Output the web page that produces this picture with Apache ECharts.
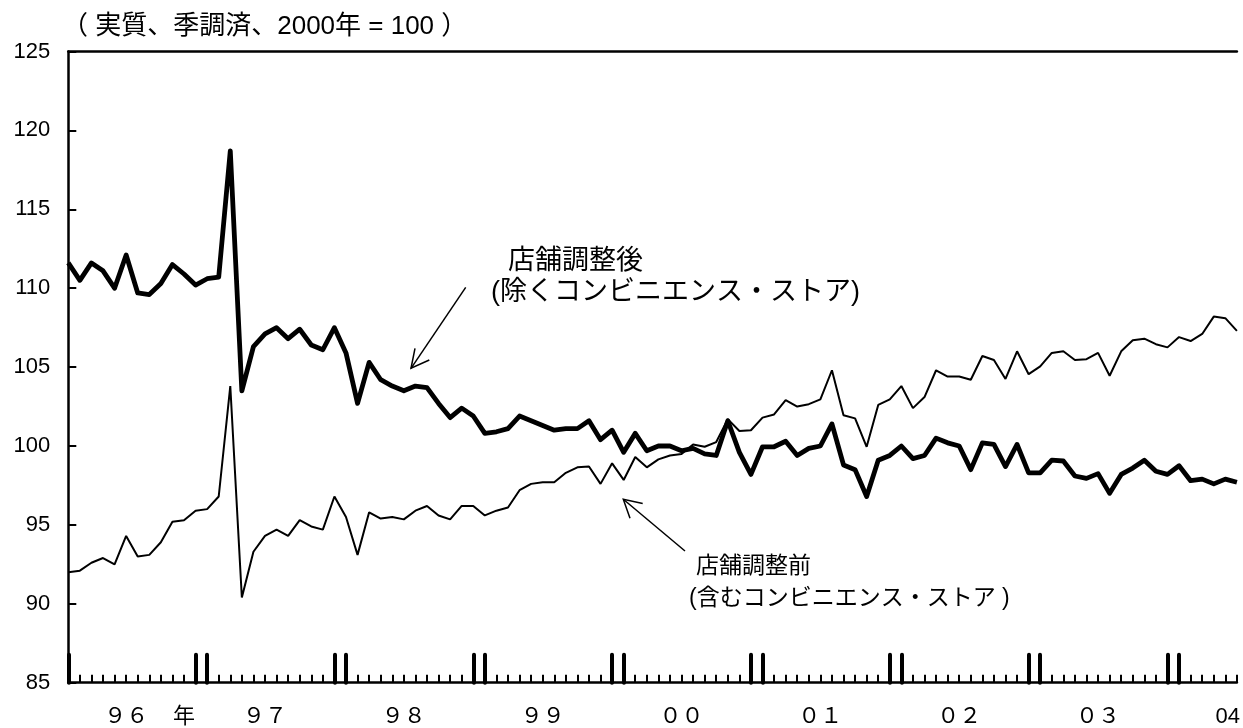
<!DOCTYPE html>
<html>
<head>
<meta charset="utf-8">
<script src="https://cdn.jsdelivr.net/npm/echarts@6/dist/echarts.min.js"></script>
<style>
html,body{margin:0;padding:0;background:#fff;}
#chart{width:1243px;height:728px;}
</style>
</head>
<body>
<div id="chart"></div>
<script>
// Monthly data, Jan 1996 .. Jun 2004 (last point lies just past the right edge)
var startYear = 1996;
var nPoints = 102;
var categories = [];
for (var i = 0; i < nPoints; i++) {
  categories.push((startYear + Math.floor(i / 12)) + '/' + (i % 12 + 1));
}

// 店舗調整後（除くコンビニエンス・ストア）
var adjusted = [
  111.6,110.5,111.6,111.1,110.0,112.1,109.7,109.6,110.3,111.5,110.9,110.2,
  110.6,110.7,118.7,103.5,106.3,107.1,107.5,106.8,107.4,106.4,106.1,107.5,
  105.9,102.7,105.3,104.2,103.8,103.5,103.8,103.7,102.7,101.8,102.4,101.9,
  100.8,100.9,101.1,101.9,101.6,101.3,101.0,101.1,101.1,101.6,100.4,101.0,
  99.6,100.8,99.7,100.0,100.0,99.7,99.85,99.5,99.4,101.6,99.6,98.2,
  99.95,99.95,100.3,99.4,99.85,100.0,101.4,98.8,98.5,96.8,99.1,99.4,
  100.0,99.2,99.4,100.5,100.2,100.0,98.5,100.2,100.1,98.7,100.1,98.3,
  98.3,99.1,99.05,98.1,97.95,98.25,97.0,98.2,98.6,99.1,98.4,98.2,
  98.75,97.8,97.9,97.6,97.9,97.7
];

// 店舗調整前（含むコンビニエンス・ストア）
var unadjusted = [
  92.0,92.1,92.6,92.9,92.5,94.3,93.0,93.1,93.9,95.2,95.3,95.9,
  96.0,96.8,103.8,90.4,93.3,94.3,94.7,94.3,95.3,94.9,94.7,96.8,
  95.5,93.1,95.8,95.4,95.5,95.35,95.9,96.2,95.6,95.35,96.2,96.2,
  95.6,95.9,96.1,97.2,97.6,97.7,97.7,98.3,98.65,98.7,97.6,98.9,
  97.85,99.3,98.65,99.15,99.4,99.5,100.1,99.95,100.25,101.7,100.95,101.0,
  101.8,102.0,102.9,102.5,102.65,102.95,104.8,101.95,101.75,99.95,102.6,102.95,
  103.8,102.4,103.1,104.8,104.4,104.4,104.2,105.7,105.45,104.25,106.0,104.55,
  105.05,105.9,106.0,105.45,105.5,105.9,104.45,106.0,106.7,106.8,106.45,106.25,
  106.9,106.65,107.1,108.2,108.1,107.3
];

// x-axis tick labels (category index -> text)
var xLabelIndex = [5, 10, 17, 29, 41, 53, 65, 77, 89, 99];
var xLabelText  = ['９６', '年', '９７', '９８', '９９', '００', '０１', '０２', '０３', '04'];

var yMin = 85, yMax = 125, yStep = 5;
var unitText = '（ 実質、季調済、2000年 = 100 ）';
var labelAfter = ['店舗調整後', '(除くコンビニエンス・ストア)'];
var labelBefore = ['店舗調整前', '(含むコンビニエンス・ストア )'];

var FONT = '"Liberation Sans", Arial, "Noto Sans CJK JP", sans-serif';
var labelMap = {};
xLabelIndex.forEach(function (idx, k) { labelMap[idx] = xLabelText[k]; });

var chart = echarts.init(document.getElementById('chart'), null, {renderer: 'canvas'});

var grid = {left: 68.3, right: -7, top: 51.5, bottom: 45.3, containLabel: false};

chart.setOption({
  animation: false,
  backgroundColor: '#fff',
  grid: grid,
  xAxis: [
    {
      type: 'category', data: categories, boundaryGap: false, position: 'bottom',
      axisLine: {show: true, onZero: false, lineStyle: {color: '#000', width: 2.5}},
      axisTick: {show: true, inside: true, interval: 0, length: 8, lineStyle: {color: '#000', width: 2}},
      axisLabel: {
        show: true, interval: 0, margin: 23, color: '#000', fontSize: 22, fontFamily: FONT,
        formatter: function (v, idx) {
          var t = labelMap[idx];
          if (!t) return '';
          if (t === '04') return '{r|' + t + '}';
          return t;
        },
        rich: {r: {fontSize: 22, fontFamily: FONT, color: '#000', padding: [0, 0, 0, 28]}}
      },
      splitLine: {show: false}
    },
    {
      type: 'category', data: categories, boundaryGap: false, position: 'bottom',
      axisLine: {show: false, onZero: false},
      axisTick: {
        show: true, inside: true, length: 28,
        interval: function (idx) { return idx % 12 === 0 || idx % 12 === 11; },
        lineStyle: {color: '#000', width: 4, cap: 'round'}
      },
      axisLabel: {show: false},
      splitLine: {show: false}
    },
    {
      type: 'category', data: categories, boundaryGap: false, position: 'top',
      axisLine: {show: true, onZero: false, lineStyle: {color: '#000', width: 2.5}},
      axisTick: {show: false}, axisLabel: {show: false}, splitLine: {show: false}
    }
  ],
  yAxis: {
    type: 'value', min: yMin, max: yMax, interval: yStep,
    axisLine: {show: true, lineStyle: {color: '#000', width: 2.5}},
    axisTick: {show: true, inside: true, length: 8, lineStyle: {color: '#000', width: 2}},
    axisLabel: {color: '#000', fontSize: 22, fontFamily: FONT, margin: 18},
    splitLine: {show: false}
  },
  series: [
    {
      name: '店舗調整前', type: 'line', data: unadjusted, xAxisIndex: 0,
      symbol: 'none', smooth: false, lineStyle: {color: '#000', width: 2}, z: 2
    },
    {
      name: '店舗調整後', type: 'line', data: adjusted, xAxisIndex: 0,
      symbol: 'none', smooth: false, lineStyle: {color: '#000', width: 4.8, join: 'round'}, z: 3
    }
  ],
  graphic: [
    {type: 'text', left: 62, top: 14, style: {text: unitText, font: '26px ' + FONT, fill: '#000'}},
    {type: 'text', left: 508, top: 248, style: {text: labelAfter[0], font: '27px ' + FONT, fill: '#000'}},
    {type: 'text', left: 491, top: 279, style: {text: labelAfter[1], font: '27px ' + FONT, fill: '#000'}},
    {type: 'text', left: 696, top: 555, style: {text: labelBefore[0], font: '23px ' + FONT, fill: '#000'}},
    {type: 'text', left: 689, top: 587, style: {text: labelBefore[1], font: '23px ' + FONT, fill: '#000'}},
    {type: 'polyline', shape: {points: [[465.7, 287.3], [411, 368.3]]}, style: {stroke: '#000', lineWidth: 1.5, fill: null}},
    {type: 'polyline', shape: {points: [[429.3, 360], [411, 368.3], [415, 348.3]]}, style: {stroke: '#000', lineWidth: 1.5, fill: null}},
    {type: 'polyline', shape: {points: [[685, 551], [623.3, 499.3]]}, style: {stroke: '#000', lineWidth: 1.5, fill: null}},
    {type: 'polyline', shape: {points: [[642.7, 503.5], [623.3, 499.3], [630, 518.3]]}, style: {stroke: '#000', lineWidth: 1.5, fill: null}}
  ]
});
</script>
</body>
</html>
